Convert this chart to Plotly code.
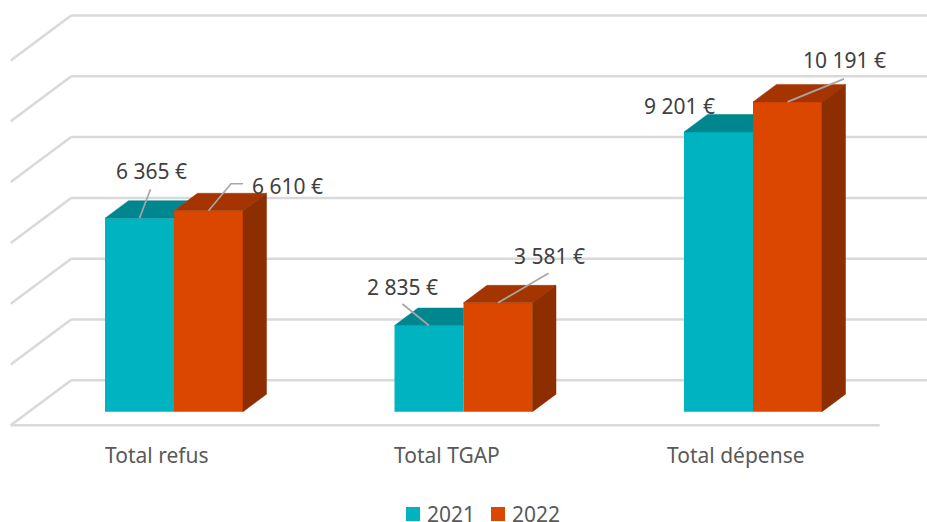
import plotly.graph_objects as go

# ---- data ----
categories = ["Total refus", "Total TGAP", "Total dépense"]
series_names = ["2021", "2022"]
values_2021 = [6365, 2835, 9201]
values_2022 = [6610, 3581, 10191]
grid_values = [0, 2000, 4000, 6000, 8000, 10000, 12000]

# ---- style / layout constants ----
W, H = 927, 522
FONT = "Noto Sans"
COL_FRONT = {"2021": "#00B3C1", "2022": "#DC4700"}
COL_TOP = {"2021": "#00868F", "2022": "#A53500"}
COL_SIDE = {"2022": "#8C2E00"}
GRID = "#D9D9D9"
PX_PER_CAT = 289.5     # pixels between categories
PX_PER_EUR = 0.0304    # pixels per euro
X0_PX = 174.0          # pixel of first category centre
Y0_PX = 411.7          # pixel of the value zero at the bar front
PLOT_BOTTOM_PX = 435
BAR_PX, DEPTH_X_PX, DEPTH_Y_PX = 69.0, 23.5, 17.5
WALL_BACK, WALL_FRONT = 1.794, -0.777   # depth of back wall / floor front, in bar depths
WALL_LEFT_PX, FLOOR_RIGHT_PX = 29.0, 898.0
LABEL_SHIFT_X = -17.0
LEGEND_SWATCH_PX = [406, 491]
LEGEND_Y_PX, LEGEND_SWATCH_SIZE, LEGEND_GAP = 514, 14, 6

# label offsets from the top centre of each bar, in pixels
label_off = {"2021": [(11.5, -47), (-26.5, -38.5), (-39.5, -26)],
             "2022": [(78.5, -25), (51.5, -46.5), (56.5, -42)]}
# leader-line elbows from the top centre of each bar, in pixels (None = no leader)
leader_off = {"2021": [[(11, -29)], [(-26.5, -21.5)], None],
              "2022": [[(22.5, -27), (34.5, -27)], [(50.5, -29.5)], [(56.5, -23)]]}

bar_w = BAR_PX / PX_PER_CAT
dx = DEPTH_X_PX / PX_PER_CAT
dv = DEPTH_Y_PX / PX_PER_EUR


def xpx(p):
    return (p - X0_PX) / PX_PER_CAT


def vpx(p):
    return (Y0_PX - p) / PX_PER_EUR


pos = list(range(len(categories)))
fig = go.Figure()

# bar fronts
for name, vals, sign in [("2021", values_2021, -1), ("2022", values_2022, 1)]:
    fig.add_trace(go.Bar(
        x=[i + sign * bar_w / 2 for i in pos], y=vals, width=bar_w, name=name,
        marker=dict(color=COL_FRONT[name], line=dict(width=0)), hoverinfo="skip",
        showlegend=False))


def poly(xs, ys, color):
    fig.add_trace(go.Scatter(x=xs + xs[:1], y=ys + ys[:1], mode="lines", fill="toself",
                             fillcolor=color, line=dict(color=color, width=0.5),
                             showlegend=False, hoverinfo="skip"))


# 3D faces, computed from the values
for i in pos:
    a, b = values_2021[i], values_2022[i]
    x0, xm, x1 = i - bar_w, i, i + bar_w
    # 2021 top, stopped where the 2022 block starts
    if b >= a + dv:
        poly([x0, xm, xm, x0 + dx], [a, a, a + dv, a + dv], COL_TOP["2021"])
    else:
        xb = xm + dx * (a + dv - b) / dv
        poly([x0, xm, xm, xb, x0 + dx], [a, a, b, a + dv, a + dv], COL_TOP["2021"])
    # 2022 top and side
    poly([xm, x1, x1 + dx, xm + dx], [b, b, b + dv, b + dv], COL_TOP["2022"])
    poly([x1, x1 + dx, x1 + dx, x1], [0, dv, b + dv, b], COL_SIDE["2022"])

# data labels and leader lines
annotations = []
for name, vals, sign in [("2021", values_2021, -1), ("2022", values_2022, 1)]:
    for i, v in enumerate(vals):
        cx = i + sign * bar_w / 2
        ox, oy = label_off[name][i]
        annotations.append(dict(
            x=cx, y=v, xref="x", yref="y", xshift=ox, yshift=-oy, showarrow=False,
            text=f"{v:,}".replace(",", " ") + " €", xanchor="center", yanchor="middle",
            font=dict(family=FONT, size=21, color="#404040")))
        elbows = leader_off[name][i]
        if elbows:
            xs = [cx] + [cx + e[0] / PX_PER_CAT for e in elbows]
            ys = [v] + [v - e[1] / PX_PER_EUR for e in elbows]
            fig.add_trace(go.Scatter(x=xs, y=ys, mode="lines", showlegend=False, hoverinfo="skip",
                                     line=dict(color="#A6A6A6", width=1.7)))

# walls and floor, below the bars
shapes = []
line = dict(color=GRID, width=2.5)
lx = xpx(WALL_LEFT_PX)
back_dx, back_dv = WALL_BACK * dx, WALL_BACK * dv
front_dx, front_dv = WALL_FRONT * dx, WALL_FRONT * dv
right = xpx(FLOOR_RIGHT_PX)
for g in grid_values:
    shapes.append(dict(type="line", xref="x", yref="y", layer="below", line=line,
                       x0=lx + front_dx, y0=g + front_dv, x1=lx + back_dx, y1=g + back_dv))
    shapes.append(dict(type="line", xref="x", yref="y", layer="below", line=line,
                       x0=lx + back_dx, y0=g + back_dv, x1=right + back_dx, y1=g + back_dv))
shapes.append(dict(type="line", xref="x", yref="y", layer="below", line=line,
                   x0=lx + front_dx, y0=front_dv, x1=right + front_dx, y1=front_dv))

# legend: swatches and names placed as in the reference
half = LEGEND_SWATCH_SIZE / 2
for name, left in zip(series_names, LEGEND_SWATCH_PX):
    shapes.append(dict(type="rect", xref="x", yref="y", layer="above",
                       fillcolor=COL_FRONT[name], line=dict(width=0),
                       x0=xpx(left), x1=xpx(left + LEGEND_SWATCH_SIZE),
                       y0=vpx(LEGEND_Y_PX + half), y1=vpx(LEGEND_Y_PX - half)))
    annotations.append(dict(x=xpx(left + LEGEND_SWATCH_SIZE + LEGEND_GAP), y=vpx(LEGEND_Y_PX),
                            xref="x", yref="y", showarrow=False, text=name, xanchor="left",
                            yanchor="middle", xshift=-1,
                            font=dict(family=FONT, size=21, color="#595959")))

fig.update_layout(
    width=W, height=H, margin=dict(l=0, r=0, t=0, b=0, autoexpand=False),
    paper_bgcolor="white", plot_bgcolor="rgba(0,0,0,0)", barmode="overlay",
    shapes=shapes, annotations=annotations, showlegend=False,
    xaxis=dict(range=[xpx(0), xpx(W)], tickmode="array", ticklabelposition="inside",
               tickvals=[i + LABEL_SHIFT_X / PX_PER_CAT for i in pos], ticktext=categories,
               showgrid=False, zeroline=False, showline=False, ticks="", ticklen=0,
               showticklabels=False),
    yaxis=dict(range=[vpx(H), vpx(0)], visible=False, showgrid=False, zeroline=False),
)
# category names sit under the floor, shifted left with the 3D perspective
for i, c in enumerate(categories):
    fig.add_annotation(x=i, y=vpx(455), xref="x", yref="y", xshift=LABEL_SHIFT_X, showarrow=False,
                       text=c, xanchor="center", yanchor="middle",
                       font=dict(family=FONT, size=21, color="#595959"))
fig.write_html("out.html", config=dict(displayModeBar=False),
               post_script="document.body.style.margin='0';document.documentElement.style.overflow='hidden';")
